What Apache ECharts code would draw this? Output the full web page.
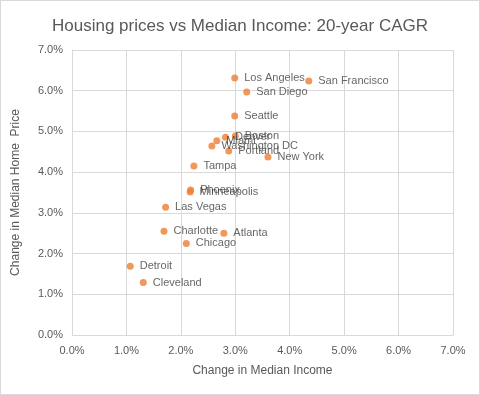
<!DOCTYPE html>
<html><head><meta charset="utf-8">
<script src="https://cdn.jsdelivr.net/npm/echarts@6/dist/echarts.min.js"></script>
<style>
html,body{margin:0;padding:0;background:#fff;}
#c{width:478px;height:393px;border:1px solid #d9d9d9;}
</style></head><body>
<div id="c"></div>
<script>
var cities = ['Los Angeles','San Francisco','San Diego','Seattle','Boston','Denver','Miami','Washington DC','Portland','New York','Tampa','Phoenix','Minneapolis','Las Vegas','Charlotte','Atlanta','Chicago','Detroit','Cleveland'];
var incomeChange = [2.99,4.35,3.21,2.99,3.00,2.82,2.66,2.57,2.88,3.60,2.24,2.18,2.17,1.72,1.69,2.79,2.10,1.07,1.31];
var priceChange = [6.31,6.24,5.97,5.38,4.89,4.86,4.77,4.64,4.52,4.37,4.15,3.56,3.51,3.14,2.55,2.50,2.25,1.69,1.29];
var axisTicks = [0,1,2,3,4,5,6,7];

var data = cities.map(function(n,i){return [incomeChange[i], priceChange[i], n];});
var chart = echarts.init(document.getElementById('c'));
var fmt = function(v){return v.toFixed(1)+'%';};
var font = '"Liberation Sans", Arial, sans-serif';
chart.setOption({
  animation:false,
  textStyle:{fontFamily:font},
  title:{text:'Housing prices vs Median Income: 20-year CAGR',left:'center',top:12,
    textStyle:{fontSize:17,fontWeight:'normal',color:'#595959',fontFamily:font}},
  grid:{left:71,right:26,top:49,bottom:59},
  xAxis:{type:'value',min:axisTicks[0],max:axisTicks[axisTicks.length-1],interval:1,
    name:'Change in Median Income',nameLocation:'middle',nameGap:30,
    nameTextStyle:{color:'#595959',fontSize:12,fontFamily:font},
    axisLine:{show:true,lineStyle:{color:'#d9d9d9'}},axisTick:{show:false},
    axisLabel:{formatter:fmt,color:'#595959',fontSize:11,margin:10},
    splitLine:{show:true,lineStyle:{color:'#d9d9d9'}}},
  yAxis:{type:'value',min:axisTicks[0],max:axisTicks[axisTicks.length-1],interval:1,
    name:'Change in Median Home  Price',nameLocation:'middle',nameGap:50,
    nameTextStyle:{color:'#595959',fontSize:12,fontFamily:font},
    axisLine:{show:true,lineStyle:{color:'#d9d9d9'}},axisTick:{show:false},
    axisLabel:{formatter:fmt,color:'#595959',fontSize:11,margin:9},
    splitLine:{show:true,lineStyle:{color:'#d9d9d9'}}},
  series:[{type:'scatter',data:data,symbolSize:7,
    itemStyle:{color:'#ED7D31'},
    label:{show:true,position:'right',distance:6,color:'#404040',fontSize:11,fontFamily:font,
      formatter:function(p){return p.data[2];}},
    labelLayout:{hideOverlap:false}}]
});
</script></body></html>
